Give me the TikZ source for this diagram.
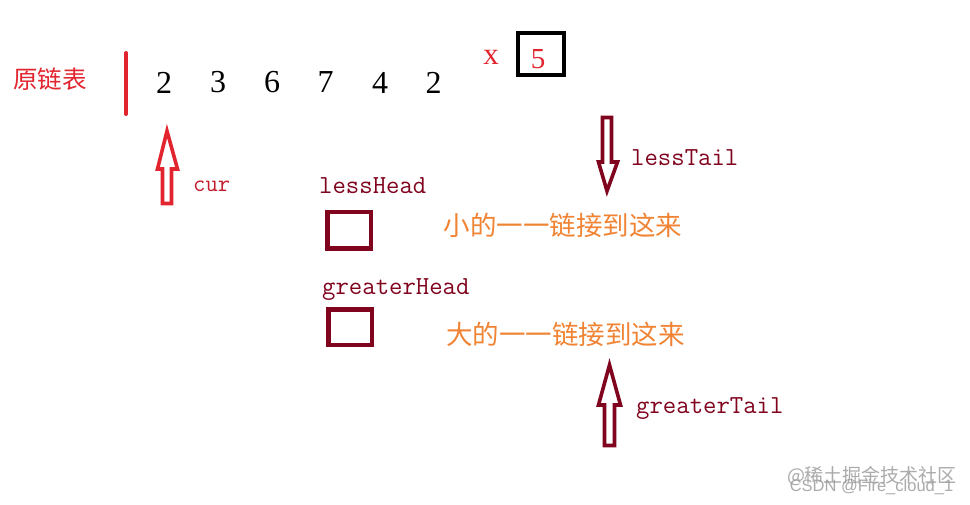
\documentclass[tikz,border=0pt]{standalone}
\usepackage{fontspec}
\setmainfont{Liberation Serif}
\newfontfamily\cjk{Noto Sans CJK SC}
\newfontfamily\wmsans{Liberation Sans}
\definecolor{redA}{RGB}{226,36,46}
\definecolor{curred}{RGB}{196,30,44}
\definecolor{maroonA}{RGB}{128,4,30}
\definecolor{orangeA}{RGB}{240,132,52}
\definecolor{wmgray}{RGB}{150,150,150}
\tikzset{
  digit/.style={inner sep=0pt, anchor=center, font=\fontsize{32}{32}\selectfont},
  monolabel/.style={inner sep=0pt, anchor=base west, text=maroonA, font=\ttfamily\fontsize{26}{26}\selectfont},
  cjklabel/.style={inner sep=0pt, anchor=center, font=\cjk\fontsize{26.5}{26.5}\selectfont},
  headbox/.style={draw=maroonA, line width=4.5pt, minimum width=43.5pt, minimum height=36.5pt, inner sep=0pt},
  hollowarrow/.style={line width=3.6pt, line join=miter, fill=white},
}
\begin{document}
\begin{tikzpicture}[x=1pt,y=-1pt]
\useasboundingbox[fill=white] (0,0) rectangle (970,504);

% original list
\node[inner sep=0pt, text=redA, font=\cjk\fontsize{24.5}{24.5}\selectfont] (orig) at (50,79) {原链表};
\coordinate (bartop) at (126,53);
\coordinate (barbot) at (126,114);
\draw[redA, line width=4pt, line cap=round] (bartop) -- (barbot);

\node[digit] (n1) at (164,82.5) {2};
\node[digit] (n2) at (218,82.5) {3};
\node[digit] (n3) at (272,82.5) {6};
\node[digit] (n4) at (325.5,82.5) {7};
\node[digit] (n5) at (380,82.5) {4};
\node[digit] (n6) at (433.5,82.5) {2};

% x = 5
\node[inner sep=0pt, text=redA, font=\fontsize{31}{31}\selectfont] (xlab) at (491,57) {x};
\node[draw=black, line width=4pt, minimum width=46pt, minimum height=42pt, inner sep=0pt] (xbox) at (541,54) {};
\node[inner sep=0pt, text=redA, font=\fontsize{29}{29}\selectfont] (xval) at (538,59) {5};

% cur arrow
\draw[hollowarrow, draw=redA] (167,131) -- (157.5,169) -- (162.5,169) -- (162.5,203.5) -- (171.5,203.5) -- (171.5,169) -- (177.5,169) -- cycle;
\node[monolabel, text=curred, font=\ttfamily\fontsize{24}{24}\selectfont] (cur) at (193,191) {cur};

% lessTail arrow
\draw[hollowarrow, draw=maroonA] (602.5,117.5) -- (611.5,117.5) -- (611.5,162) -- (617.5,162) -- (607,191) -- (598.5,162) -- (602.5,162) -- cycle;
\node[monolabel] (lesstail) at (631,165) {lessTail};

% lessHead
\node[monolabel] (lesshead) at (319,193) {lessHead};
\node[headbox] (lessbox) at (349,230) {};
\node[cjklabel, text=orangeA] (lesstext) at (563,225) {小的一一链接到这来};

% greaterHead
\node[monolabel] (greaterhead) at (322,294) {greaterHead};
\node[headbox, minimum height=35.5pt] (greaterbox) at (350,327) {};
\node[cjklabel, text=orangeA] (greatertext) at (565.5,334) {大的一一链接到这来};

% greaterTail arrow
\draw[hollowarrow, draw=maroonA] (609.5,365) -- (620.5,405) -- (614.5,405) -- (614.5,445.5) -- (604.5,445.5) -- (604.5,405) -- (598.5,405) -- cycle;
\node[monolabel] (greatertail) at (636,413) {greaterTail};

% watermark
\node[inner sep=0pt, text=wmgray, opacity=0.8, font=\cjk\fontsize{19}{19}\selectfont] (wm1) at (872,476) {@稀土掘金技术社区};
\node[inner sep=0pt, text=wmgray, opacity=0.8, font=\wmsans\fontsize{16.5}{16.5}\selectfont] (wm2) at (871.5,487) {CSDN @Fire\_cloud\_1};
\end{tikzpicture}
\end{document}
